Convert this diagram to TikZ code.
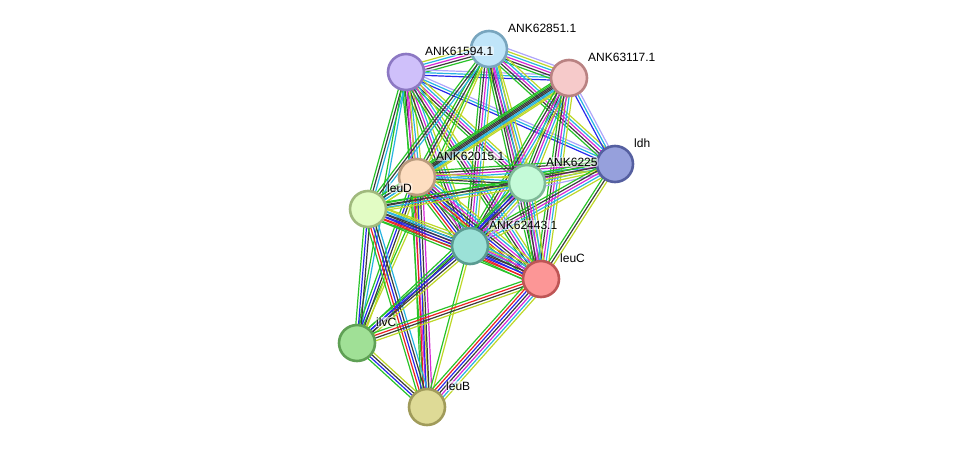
\documentclass[tikz,border=0pt]{standalone}
\usepackage{fontspec}
\setmainfont{Liberation Sans}
\usetikzlibrary{calc,backgrounds}
\definecolor{eg}{RGB}{40,195,40}
\definecolor{er}{RGB}{235,35,35}
\definecolor{eb}{RGB}{40,40,235}
\definecolor{ek}{RGB}{60,60,60}
\definecolor{em}{RGB}{215,40,215}
\definecolor{ec}{RGB}{40,180,225}
\definecolor{ey}{RGB}{190,215,40}
\definecolor{el}{RGB}{175,165,250}
\definecolor{f61594}{RGB}{207,192,250}\definecolor{d61594}{RGB}{140,120,195}
\definecolor{f62851}{RGB}{192,229,249}\definecolor{d62851}{RGB}{120,165,190}
\definecolor{f63117}{RGB}{246,202,202}\definecolor{d63117}{RGB}{185,130,130}
\definecolor{fldh}{RGB}{150,160,220}\definecolor{dldh}{RGB}{85,95,160}
\definecolor{f62015}{RGB}{253,221,192}\definecolor{d62015}{RGB}{185,155,125}
\definecolor{f6225}{RGB}{196,250,216}\definecolor{d6225}{RGB}{125,185,150}
\definecolor{fleuD}{RGB}{226,252,196}\definecolor{dleuD}{RGB}{160,185,125}
\definecolor{f62443}{RGB}{155,225,215}\definecolor{d62443}{RGB}{90,155,145}
\definecolor{fleuC}{RGB}{252,150,150}\definecolor{dleuC}{RGB}{190,85,85}
\definecolor{filvC}{RGB}{160,224,150}\definecolor{dilvC}{RGB}{95,160,85}
\definecolor{fleuB}{RGB}{222,218,150}\definecolor{dleuB}{RGB}{160,155,90}
\newcommand\stringedge[3]{%
 \foreach \cc [count=\nn] in {#3} {\xdef\bcount{\nn}}%
 \foreach \cc [count=\ii] in {#3} {%
   \pgfmathsetmacro\off{(\ii-(\bcount+1)/2)*2.7}%
   \draw[draw=\cc] ($(#1.center)!\off pt!90:(#2.center)$) -- ($(#2.center)!\off pt!-90:(#1.center)$);
 }}
\tikzset{
 prot/.style={circle, minimum size=36pt, inner sep=0pt, line width=2.6pt, fill=f#1, draw=d#1},
 lab/.style={anchor=west, font=\fontsize{12}{12}\selectfont, inner sep=0.6pt, fill=white, fill opacity=0.55, text opacity=1, rounded corners=2pt},
 every path/.append style={line width=1.2pt}
}
\begin{document}
\begin{tikzpicture}[x=1pt,y=-1pt]
\useasboundingbox (0,0) rectangle (976,453);
\node[prot=61594] (n61594) at (406,72) {};
\node[prot=62851] (n62851) at (489,49) {};
\node[prot=63117] (n63117) at (569,78) {};
\node[prot=ldh] (ldh) at (615,164) {};
\node[prot=62015] (n62015) at (417,177) {};
\node[prot=6225] (n6225) at (527,183) {};
\node[prot=leuD] (leuD) at (368,209) {};
\node[prot=62443] (n62443) at (470,246) {};
\node[prot=leuC] (leuC) at (541,279) {};
\node[prot=ilvC] (ilvC) at (357,343) {};
\node[prot=leuB] (leuB) at (427,407) {};
\begin{pgfonlayer}{background}
\stringedge{n61594}{n62851}{eg,ek,em,ec,ey}
\stringedge{n61594}{n63117}{eb,ec,el}
\stringedge{n61594}{ldh}{eb,ec,el}
\stringedge{n61594}{n62015}{eg,ek,em,ec,ey}
\stringedge{n61594}{n6225}{eg,ek,em,ec,ey}
\stringedge{n61594}{leuD}{eg,ek,ec}
\stringedge{n61594}{n62443}{eg,ek,em,ec,ey}
\stringedge{n61594}{leuC}{eg,ek,em,ec,ey}
\stringedge{n61594}{ilvC}{eg,ec}
\stringedge{n61594}{leuB}{eg,em,ey}
\stringedge{n62851}{n63117}{eg,ek,em,ec,ey,el}
\stringedge{n62851}{ldh}{eg,ek,em,ec,ey}
\stringedge{n62851}{n62015}{eg,ek,ey}
\stringedge{n62851}{n6225}{eg,ek,em,ec,ey}
\stringedge{n62851}{leuD}{eg,ek,ec}
\stringedge{n62851}{n62443}{eg,ek,em,ec,ey}
\stringedge{n62851}{leuC}{eg,ek,em,ec,ey}
\stringedge{n62851}{ilvC}{eg,ey}
\stringedge{n63117}{ldh}{eb,ec,el}
\stringedge{n63117}{n62015}{eg,ek,ek,ec,ey}
\stringedge{n63117}{leuD}{eg,ek,ec,ey}
\stringedge{n63117}{n6225}{eg,ek,em,ec,ey}
\stringedge{n63117}{n62443}{eg,ek,em,ec,ey}
\stringedge{n63117}{leuC}{eg,ek,em,ec,ey}
\stringedge{ldh}{n62015}{eg,ek,em,ec,ey}
\stringedge{ldh}{n6225}{eg,ek,em,ec,ey,el}
\stringedge{ldh}{leuD}{eg,ek,ey}
\stringedge{ldh}{n62443}{eg,ek,em,ec,ey}
\stringedge{ldh}{leuC}{eg,ek,ey}
\stringedge{n62015}{n6225}{eg,ek,ec,ey}
\stringedge{n62015}{leuD}{eg,ek,ec,ey}
\stringedge{n62015}{n62443}{eg,er,eb,ek,em,ec,ey}
\stringedge{n62015}{leuC}{eg,er,eb,ek,em,ec,ey}
\stringedge{n62015}{ilvC}{eg,eb,ek,ey}
\stringedge{n62015}{leuB}{eg,er,eb,ek,em}
\stringedge{n6225}{leuD}{eg,ek,ec,ey}
\stringedge{n6225}{n62443}{eg,eb,ek,em,ec,ey,el}
\stringedge{n6225}{leuC}{eg,ek,em,ec,ey}
\stringedge{n6225}{ilvC}{eg,eb,ek}
\stringedge{leuD}{n62443}{eg,er,eb,ek,ec,ey}
\stringedge{leuD}{leuC}{eg,er,eb,ek,ec,ey}
\stringedge{leuD}{ilvC}{eg,eb,ek}
\stringedge{leuD}{leuB}{eg,er,eb,ek,ec}
\stringedge{n62443}{leuC}{eg,er,eb,ek,em,ec,ey}
\stringedge{n62443}{ilvC}{eg,eb,ek,ey}
\stringedge{n62443}{leuB}{eg,ey}
\stringedge{leuC}{ilvC}{eg,er,ek,ey}
\stringedge{leuC}{leuB}{eg,er,eb,ek,em,ec,ey}
\stringedge{ilvC}{leuB}{eg,eb,ek,ey}
\end{pgfonlayer}
\node[lab] (l61594) at ($(n61594)+(18,-21)$) {ANK61594.1};
\node[lab] (l62851) at ($(n62851)+(18,-21)$) {ANK62851.1};
\node[lab] (l63117) at ($(n63117)+(18,-21)$) {ANK63117.1};
\node[lab] (lldh) at ($(ldh)+(18,-21)$) {ldh};
\node[lab] (l62015) at ($(n62015)+(18,-21)$) {ANK62015.1};
\node[lab] (l6225) at ($(n6225)+(18,-21)$) {ANK6225};
\node[lab] (lleuD) at ($(leuD)+(18,-21)$) {leuD};
\node[lab] (l62443) at ($(n62443)+(18,-21)$) {ANK62443.1};
\node[lab] (lleuC) at ($(leuC)+(18,-21)$) {leuC};
\node[lab] (lilvC) at ($(ilvC)+(18,-21)$) {ilvC};
\node[lab] (lleuB) at ($(leuB)+(18,-21)$) {leuB};
\end{tikzpicture}
\end{document}
